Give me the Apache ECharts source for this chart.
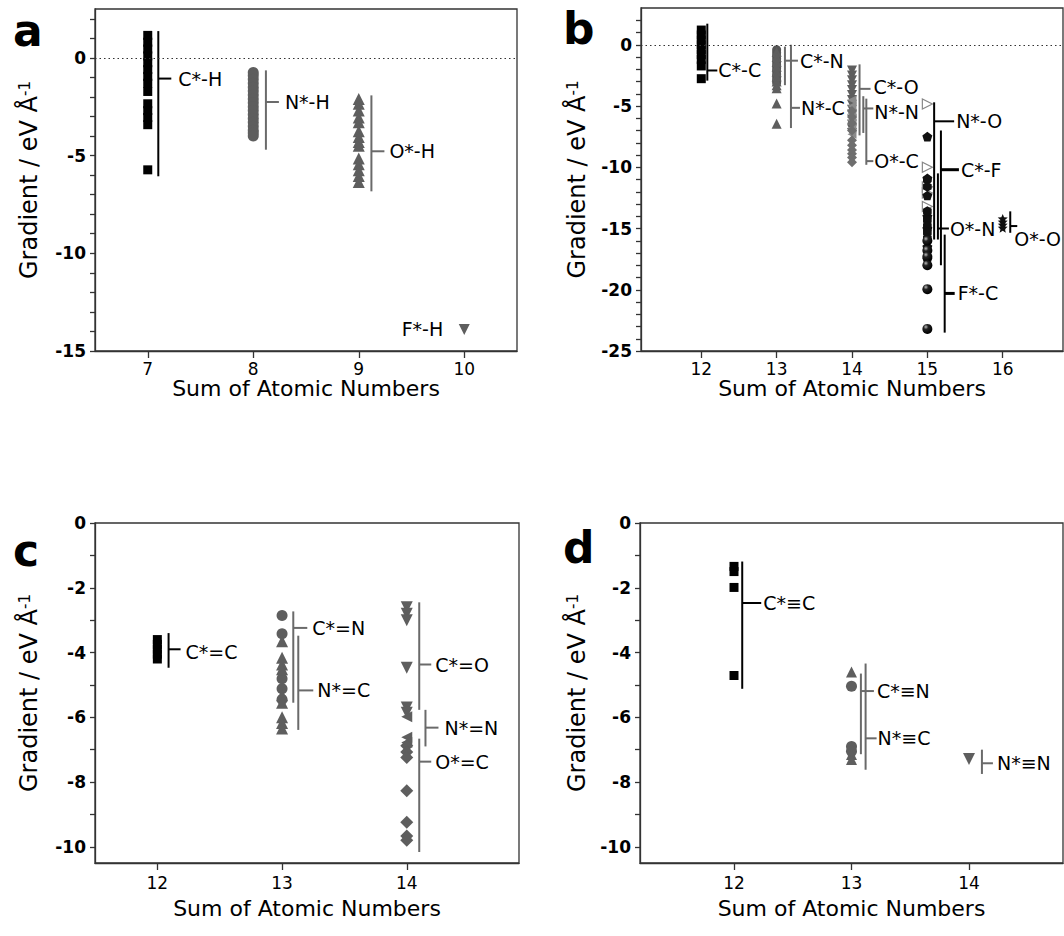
<!DOCTYPE html>
<html><head><meta charset="utf-8">
<script src="https://cdn.jsdelivr.net/npm/echarts@6/dist/echarts.min.js"></script>
<style>html,body{margin:0;padding:0;background:#fff}#c{width:1064px;height:936px}</style>
</head><body><div id="c"></div>
<script>
// ---------- tick values ----------
const xTicksA = [7, 8, 9, 10];
const xTicksB = [12, 13, 14, 15, 16];
const xTicksC = [12, 13, 14];
const xTicksD = [12, 13, 14];
const yLabelsA = [-15, -10, -5, 0];
const yTicksA = [-15,-14,-13,-12,-11,-10,-9,-8,-7,-6,-5,-4,-3,-2,-1,0,1,2];
const yLabelsB = [-25, -20, -15, -10, -5, 0];
const yTicksB = [-25,-24,-23,-22,-21,-20,-19,-18,-17,-16,-15,-14,-13,-12,-11,-10,-9,-8,-7,-6,-5,-4,-3,-2,-1,0,1,2];
const yLabelsCD = [-10, -8, -6, -4, -2, 0];
const yTicksCD = [-10,-9,-8,-7,-6,-5,-4,-3,-2,-1,0];

// ---------- panel a values (x = sum of atomic numbers) ----------
const aCH = [1.15, 0.8, 0.45, 0.1, -0.25, -0.6, -0.95, -1.3, -1.72, -2.35, -2.7, -3.05, -3.42, -5.73];
const aNH = [-0.75, -0.9, -1.1, -1.3, -1.5, -1.7, -1.9, -2.1, -2.3, -2.5, -2.7, -2.9, -3.1, -3.3, -3.5, -3.7, -3.85, -4.0];
const aOH = [-2.1, -2.35, -2.7, -3.05, -3.3, -3.75, -4.05, -4.3, -4.5, -5.15, -5.45, -5.75, -6.05, -6.35];
const aFH = [-13.9];

// ---------- panel b values ----------
const bCC = [1.2, 0.8, 0.4, 0, -0.4, -0.8, -1.2, -1.73, -2.77];
const bCN = [-0.4, -0.65, -0.9, -1.15, -1.4, -1.65, -1.9, -2.15, -2.4, -2.65, -2.9, -3.1];
const bNC = [-0.6, -1.0, -1.4, -1.8, -2.2, -2.6, -3.0, -3.3, -3.55, -4.8, -6.45];
const bCO = [-2.1, -2.5, -2.9, -3.3, -3.7, -4.1, -4.5, -4.9, -5.3, -5.7, -6.1, -6.5, -6.9, -7.2];
const bNN = [-4.5, -5.0, -5.6, -6.2, -6.8, -7.3];
const bOC = [-5.4, -5.9, -6.4, -7.0, -7.8, -8.2, -8.6, -8.9, -9.2, -9.6];
const bNO = [-4.84, -10.0, -11.6, -12.1, -13.2];
const bCF = [-7.5, -10.9, -12.3, -14.0, -15.0, -16.5, -17.5];
const bON = [-11.0, -11.6, -13.6, -14.3, -14.8, -15.3, -15.8];
const bFC = [-16.0, -16.8, -17.3, -18.0, -19.95, -23.2];
const bOO = [-14.2, -14.45, -14.7, -14.95];

// ---------- panel c values ----------
const cCC = [-3.6, -3.75, -3.9, -4.05, -4.2];
const cCN = [-2.86, -3.42, -4.81, -5.12, -5.45];
const cNC = [-3.65, -4.16, -4.37, -4.52, -5.32, -5.55, -6.0, -6.18, -6.35];
const cCO = [-2.6, -2.8, -3.0, -4.47, -5.7, -5.86];
const cNN = [-5.98, -6.62, -6.78];
const cOC = [-6.88, -7.07, -7.24, -8.27, -9.24, -9.67, -9.8];

// ---------- panel d values ----------
const dCC = [-1.34, -1.5, -1.99, -4.71];
const dCN = [-5.04, -6.9, -7.05];
const dNC = [-4.6, -7.15, -7.3];
const dNN = [-7.29];

// ---------- range brackets ----------
const bracketsA = [
  {x: 7.1,  top: 1.37,  bottom: -6.06, tick: -1.06, label: 'C*-H', dark: true},
  {x: 8.12, top: -0.64, bottom: -4.7,  tick: -2.26, label: 'N*-H'},
  {x: 9.12, top: -1.92, bottom: -6.83, tick: -4.78, label: 'O*-H'},
  {x: 10,   top: null,  bottom: null,  tick: -13.85, label: 'F*-H'}
];
const bracketsB = [
  {x: 12.08, top: 1.72,  bottom: -2.93, tick: -2.1,  label: 'C*-C', dark: true},
  {x: 13.11, top: -0.15, bottom: -3.3,  tick: -1.3,  label: 'C*-N'},
  {x: 13.19, top: 0,     bottom: -6.8,  tick: -5.15, label: 'N*-C'},
  {x: 14.1,  top: -1.6,  bottom: -7.4,  tick: -3.6,  label: 'C*-O'},
  {x: 14.15, top: -4.2,  bottom: -7.2,  tick: -5.2,  label: 'N*-N'},
  {x: 14.19, top: -4.4,  bottom: -9.8,  tick: -9.5,  label: 'O*-C'},
  {x: 15.09, top: -4.7,  bottom: -15.9, tick: -6.25, label: 'N*-O', dark: true},
  {x: 15.18, top: -7.0,  bottom: -18.0, tick: -10.2, label: 'C*-F', dark: true},
  {x: 15.14, top: -10.5, bottom: -15.9, tick: -15.0, label: 'O*-N', dark: true},
  {x: 15.23, top: -15.5, bottom: -23.5, tick: -20.3, label: 'F*-C', dark: true},
  {x: 16.1,  top: -13.6, bottom: -15.35, tick: -14.8, label: 'O*-O', dark: true}
];
const bracketsC = [
  {x: 12.09, top: -3.4,  bottom: -4.47,  tick: -3.9,  label: 'C*=C', dark: true},
  {x: 13.09, top: -2.73, bottom: -5.55,  tick: -3.24, label: 'C*=N'},
  {x: 13.13, top: -3.48, bottom: -6.39,  tick: -5.17, label: 'N*=C'},
  {x: 14.1,  top: -2.45, bottom: -5.77,  tick: -4.37, label: 'C*=O'},
  {x: 14.15, top: -5.77, bottom: -6.9,   tick: -6.32, label: 'N*=N'},
  {x: 14.1,  top: -6.66, bottom: -10.16, tick: -7.37, label: 'O*=C'}
];
const bracketsD = [
  {x: 12.07, top: -1.19, bottom: -5.12, tick: -2.47, label: 'C*≡C', dark: true},
  {x: 13.08, top: -4.65, bottom: -7.14, tick: -5.19, label: 'C*≡N'},
  {x: 13.12, top: -4.34, bottom: -7.62, tick: -6.65, label: 'N*≡C'},
  {x: 14.11, top: -7.0,  bottom: -7.75, tick: -7.42, label: 'N*≡N'}
];

// ---------- styling (pixel offsets of bracket ticks / labels) ----------
const bracketStyleA = [{len:13,lx:20},{len:13,lx:19},{len:13,lx:18},{len:0,lx:-21,align:'right'}];
const bracketStyleB = [{len:10,lx:11},{len:13,lx:15},{len:9,lx:10},{len:11,lx:14,dy:-2},{len:10,lx:11,dy:4},{len:7,lx:8},
  {len:20,lx:22},{len:18,lx:20,tw:3},{len:11,lx:12},{len:10,lx:13,tw:3},{len:7,lx:4,dy:13}];
const bracketStyleC = [{len:12,lx:17,dy:3},{len:14,lx:19},{len:15,lx:19},{len:12,lx:16},{len:13,lx:19},{len:12,lx:16}];
const bracketStyleD = [{len:19,lx:21},{len:13,lx:16},{len:11,lx:12},{len:11,lx:15}];

const FONT = '"DejaVu Sans", "Liberation Sans", sans-serif';
const BLACK = '#000';
const GRAY = '#5e5e5e';
const LINEGRAY = '#6a6a6a';
const PENT = 'path://M0,-10 L9.51,-3.09 L5.88,8.09 L-5.88,8.09 L-9.51,-3.09 Z';
const HEX = 'path://M0,-10 L8.66,-5 L8.66,5 L0,10 L-8.66,5 L-8.66,-5 Z';
const DIAM = 'path://M0,-10 L10,0 L0,10 L-10,0 Z';
const STAR = 'path://M0,-10 L2.6,-3.6 L9.5,-3.1 L4.2,1.4 L5.9,8.1 L0,4.4 L-5.9,8.1 L-4.2,1.4 L-9.5,-3.1 L-2.6,-3.6 Z';

const chart = echarts.init(document.getElementById('c'), null, {renderer: 'svg'});

function xAxis(gi, min, max, ticks, margin, gap) {
  return {
    gridIndex: gi, type: 'value', min: min, max: max,
    name: 'Sum of Atomic Numbers', nameLocation: 'middle', nameGap: gap,
    nameTextStyle: {fontFamily: FONT, fontSize: 22, color: '#000'},
    axisLine: {show: true, onZero: false, lineStyle: {color: '#333', width: 1.3}},
    axisTick: {show: true, length: 7, customValues: ticks, lineStyle: {color: '#333', width: 1.3}},
    axisLabel: {show: true, margin: margin, customValues: ticks, fontFamily: FONT, fontSize: 17, color: '#000'},
    splitLine: {show: false}
  };
}
function yAxis(gi, min, max, labels, ticks, gap) {
  return {
    gridIndex: gi, type: 'value', min: min, max: max,
    name: 'Gradient / eV Å{s|-1}', nameLocation: 'middle', nameGap: gap, nameRotate: 90,
    nameTextStyle: {fontFamily: FONT, fontSize: 24, color: '#000',
      rich: {s: {fontFamily: FONT, fontSize: 15, color: '#000', verticalAlign: 'top'}}},
    axisLine: {show: true, onZero: false, lineStyle: {color: '#333', width: 1.3}},
    axisTick: {show: true, length: 5, customValues: ticks, lineStyle: {color: '#333', width: 1.3}},
    axisLabel: {show: true, margin: 9, customValues: labels, fontFamily: FONT, fontSize: 17, fontWeight: 'bold', color: '#000'},
    splitLine: {show: false}
  };
}
function scat(gi, x, vals, opt) {
  return {
    type: 'scatter', xAxisIndex: gi, yAxisIndex: gi, silent: true, z: 2,
    data: vals.map(function (v) { return [x, v]; }),
    symbol: opt.symbol, symbolSize: opt.size, symbolRotate: opt.rotate || 0, symbolKeepAspect: true,
    itemStyle: Object.assign({color: opt.color, opacity: 1}, opt.item || {})
  };
}
function brackets(gi, list, styles, zeroLine) {
  const s = {
    type: 'custom', xAxisIndex: gi, yAxisIndex: gi, coordinateSystem: 'cartesian2d', clip: false, silent: true, z: 3,
    data: list.map(function (b) { return [b.x, b.tick]; }),
    encode: {x: 0, y: 1},
    renderItem: function (params, api) {
      const b = list[params.dataIndex];
      const st = styles[params.dataIndex];
      const col = b.dark ? BLACK : LINEGRAY;
      const children = [];
      const pt = api.coord([b.x, b.tick]);
      if (b.top !== null) {
        const p1 = api.coord([b.x, b.top]);
        const p2 = api.coord([b.x, b.bottom]);
        children.push({type: 'line', shape: {x1: p1[0], y1: p1[1], x2: p2[0], y2: p2[1]}, style: {stroke: col, lineWidth: 2}});
        children.push({type: 'line', shape: {x1: pt[0], y1: pt[1], x2: pt[0] + st.len, y2: pt[1]}, style: {stroke: col, lineWidth: st.tw || 2}});
      }
      children.push({type: 'text', style: {text: b.label, x: pt[0] + st.lx, y: pt[1] + (st.dy || 0),
        fill: '#000', font: '19px ' + FONT, align: st.align || 'left', verticalAlign: 'middle'}});
      return {type: 'group', children: children};
    }
  };
  if (zeroLine) {
    s.markLine = {silent: true, symbol: 'none', label: {show: false}, animation: false,
      lineStyle: {type: [1.5, 3], color: '#333', width: 1.2}, data: [{yAxis: 0}]};
  }
  return s;
}

const sphere = new echarts.graphic.RadialGradient(0.35, 0.3, 0.7, [
  {offset: 0, color: '#bbb'}, {offset: 0.35, color: '#222'}, {offset: 1, color: '#000'}]);

const option = {
  animation: false,
  backgroundColor: '#fff',
  textStyle: {fontFamily: FONT},
  grid: [
    {left: 95, top: 9, width: 422, height: 342, show: true, borderColor: '#333', borderWidth: 1.3},
    {left: 641, top: 8, width: 422, height: 343, show: true, borderColor: '#333', borderWidth: 1.3},
    {left: 95, top: 523, width: 424, height: 340, show: true, borderColor: '#333', borderWidth: 1.3},
    {left: 640, top: 523, width: 423, height: 340, show: true, borderColor: '#333', borderWidth: 1.3}
  ],
  xAxis: [
    xAxis(0, 6.5, 10.5, xTicksA, 9, 23),
    xAxis(1, 11.2, 16.8, xTicksB, 9, 23),
    xAxis(2, 11.5, 14.9, xTicksC, 11, 34),
    xAxis(3, 11.2, 14.8, xTicksD, 11, 34)
  ],
  yAxis: [
    yAxis(0, -15, 2.5, yLabelsA, yTicksA, 54),
    yAxis(1, -25, 3, yLabelsB, yTicksB, 52),
    yAxis(2, -10.5, 0, yLabelsCD, yTicksCD, 54),
    yAxis(3, -10.5, 0, yLabelsCD, yTicksCD, 51)
  ],
  graphic: [
    {type: 'text', x: 13, y: 30, style: {text: 'a', font: 'bold 44px ' + FONT, fill: '#000', verticalAlign: 'middle'}},
    {type: 'text', x: 563, y: 28, style: {text: 'b', font: 'bold 44px ' + FONT, fill: '#000', verticalAlign: 'middle'}},
    {type: 'text', x: 13, y: 550, style: {text: 'c', font: 'bold 44px ' + FONT, fill: '#000', verticalAlign: 'middle'}},
    {type: 'text', x: 563, y: 547, style: {text: 'd', font: 'bold 44px ' + FONT, fill: '#000', verticalAlign: 'middle'}}
  ],
  series: [
    // panel a
    scat(0, 7, aCH, {symbol: 'rect', size: 9, color: BLACK}),
    scat(0, 8, aNH, {symbol: 'circle', size: 11, color: GRAY}),
    scat(0, 9, aOH, {symbol: 'triangle', size: 12, color: GRAY}),
    scat(0, 10, aFH, {symbol: 'triangle', size: 11, rotate: 180, color: GRAY}),
    brackets(0, bracketsA, bracketStyleA, true),
    // panel b
    scat(1, 12, bCC, {symbol: 'rect', size: 9, color: BLACK}),
    scat(1, 13, bCN, {symbol: 'circle', size: 9, color: '#555'}),
    scat(1, 13, bNC, {symbol: 'triangle', size: 10, color: GRAY}),
    scat(1, 14, bCO, {symbol: 'triangle', size: 10, rotate: 180, color: GRAY}),
    scat(1, 14, bNN, {symbol: 'triangle', size: 9, rotate: 90, color: '#8a8a8a'}),
    scat(1, 14, bOC, {symbol: DIAM, size: 10, color: '#6e6e6e'}),
    scat(1, 15, bNO, {symbol: 'triangle', size: 10, rotate: -90, color: '#fff', item: {borderColor: '#888', borderWidth: 1.2}}),
    scat(1, 15, bCF, {symbol: PENT, size: 10, color: '#111'}),
    scat(1, 15, bON, {symbol: HEX, size: 10, color: '#111'}),
    scat(1, 15, bFC, {symbol: 'circle', size: 10, color: sphere}),
    scat(1, 16, bOO, {symbol: STAR, size: 10, color: '#111'}),
    brackets(1, bracketsB, bracketStyleB, true),
    // panel c
    scat(2, 12, cCC, {symbol: 'rect', size: 9, color: BLACK}),
    scat(2, 13, cCN, {symbol: 'circle', size: 11, color: GRAY}),
    scat(2, 13, cNC, {symbol: 'triangle', size: 12, color: GRAY}),
    scat(2, 14, cCO, {symbol: 'triangle', size: 12, rotate: 180, color: GRAY}),
    scat(2, 14, cNN, {symbol: 'triangle', size: 11, rotate: 90, color: GRAY}),
    scat(2, 14, cOC, {symbol: DIAM, size: 13, color: GRAY}),
    brackets(2, bracketsC, bracketStyleC, false),
    // panel d
    scat(3, 12, dCC, {symbol: 'rect', size: 9, color: BLACK}),
    scat(3, 13, dCN, {symbol: 'circle', size: 11, color: GRAY}),
    scat(3, 13, dNC, {symbol: 'triangle', size: 11, color: GRAY}),
    scat(3, 14, dNN, {symbol: 'triangle', size: 12, rotate: 180, color: GRAY}),
    brackets(3, bracketsD, bracketStyleD, false)
  ]
};
chart.setOption(option);
</script>
</body></html>
